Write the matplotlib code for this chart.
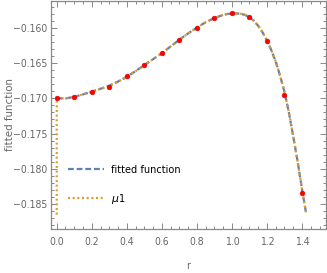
import matplotlib
matplotlib.use("Agg")
import matplotlib.pyplot as plt
from matplotlib.ticker import MultipleLocator, FixedLocator
from matplotlib import font_manager

# ---- data ----
data_r = [0.0, 0.1, 0.2, 0.3, 0.4, 0.5, 0.6, 0.7, 0.8, 0.9, 1.0, 1.1, 1.2, 1.3, 1.4]
data_val = [-0.17000, -0.16976, -0.16906, -0.16834, -0.16688, -0.16528, -0.16358,
            -0.16170, -0.15996, -0.15863, -0.15797, -0.15845, -0.16189, -0.16954, -0.18337]

fit_r = [0.00, 0.05, 0.10, 0.15, 0.20, 0.25, 0.30, 0.35, 0.40, 0.45, 0.50, 0.55,
         0.60, 0.65, 0.70, 0.75, 0.80, 0.85, 0.90, 0.95, 0.975, 1.00, 1.025, 1.05,
         1.075, 1.10, 1.125, 1.15, 1.175, 1.20, 1.225, 1.25, 1.275, 1.30, 1.325,
         1.35, 1.375, 1.40, 1.423]
fit_val = [-0.17000, -0.17002, -0.16980, -0.16945, -0.16905, -0.16865, -0.16822,
           -0.16763, -0.16695, -0.16615, -0.16530, -0.16445, -0.16360, -0.16265,
           -0.16170, -0.16080, -0.15997, -0.15922, -0.15862, -0.15818, -0.15804,
           -0.15797, -0.15796, -0.15801, -0.15818, -0.15848, -0.15900, -0.15972,
           -0.16065, -0.16180, -0.16318, -0.16480, -0.16680, -0.16910, -0.17200,
           -0.17540, -0.17895, -0.18290, -0.18625]

mu1_r = [0.0] + fit_r
mu1_val = [-0.18650] + fit_val

x_ticks = [0.0, 0.2, 0.4, 0.6, 0.8, 1.0, 1.2, 1.4]
y_ticks = [-0.185, -0.180, -0.175, -0.170, -0.165, -0.160]

# ---- fonts ----
names = {f.name for f in font_manager.fontManager.ttflist}
if "Liberation Sans Narrow" in names:
    FONT = dict(family="Liberation Sans Narrow")
else:
    FONT = dict(family="DejaVu Sans", fontstretch="condensed")

fig = plt.figure(figsize=(3.27, 2.73), dpi=100)
ax = fig.add_axes([51/327, 1 - 229/273, 275/327, 228.5/273])

blue = "#5E81B5"
orange = "#E19C24"

ax.plot(fit_r, fit_val, color=blue, lw=1.6, linestyle=(0, (2.6, 1.3)),
        label="fitted function", zorder=2)
ax.plot(mu1_r, mu1_val, color=orange, lw=1.6, linestyle=(0, (0.9, 1.2)),
        label=r"$\mu$1", zorder=3)
ax.plot(data_r, data_val, "o", color="#FF0000", ms=3.4, mec="#E00000", mew=0.4, zorder=4)

ax.set_xlim(-0.0326, 1.537)
ax.set_ylim(-0.18854, -0.15613)

gray = "#888888"
for s in ax.spines.values():
    s.set_color(gray)
    s.set_linewidth(0.9)

ax.xaxis.set_major_locator(FixedLocator(x_ticks))
ax.xaxis.set_minor_locator(MultipleLocator(0.05))
ax.yaxis.set_major_locator(FixedLocator(y_ticks))
ax.yaxis.set_minor_locator(MultipleLocator(0.001))
ax.set_xticklabels([f"{v:.1f}" for v in x_ticks])
ax.set_yticklabels([f"\u2212{abs(v):.3f}" for v in y_ticks])

ax.tick_params(which="both", direction="in", top=True, right=True, color=gray,
               width=0.7, labelcolor="#666666", labelsize=7.5)
ax.tick_params(which="major", length=4)
ax.tick_params(which="minor", length=2)
ax.tick_params(axis="x", pad=6)
ax.tick_params(axis="y", pad=2.5)
for lab in ax.get_xticklabels() + ax.get_yticklabels():
    lab.set(**FONT)

ax.set_xlabel("r", color="#666666", fontsize=7.5, labelpad=10, **FONT)
ax.set_ylabel("fitted function", color="#666666", fontsize=8.2, **FONT)
ax.yaxis.set_label_coords(-0.150, 0.5)
ax.yaxis.label.set_va("center")

prop = font_manager.FontProperties(size=7.8, **{("stretch" if k == "fontstretch" else k): v for k, v in FONT.items()})
leg = ax.legend(loc="center left", bbox_to_anchor=(0.062, 0.19), frameon=False,
                borderpad=0, borderaxespad=0, handlelength=3.3, handletextpad=0.7,
                labelspacing=1.55, prop=prop)

fig.savefig("out.png", dpi=100)
